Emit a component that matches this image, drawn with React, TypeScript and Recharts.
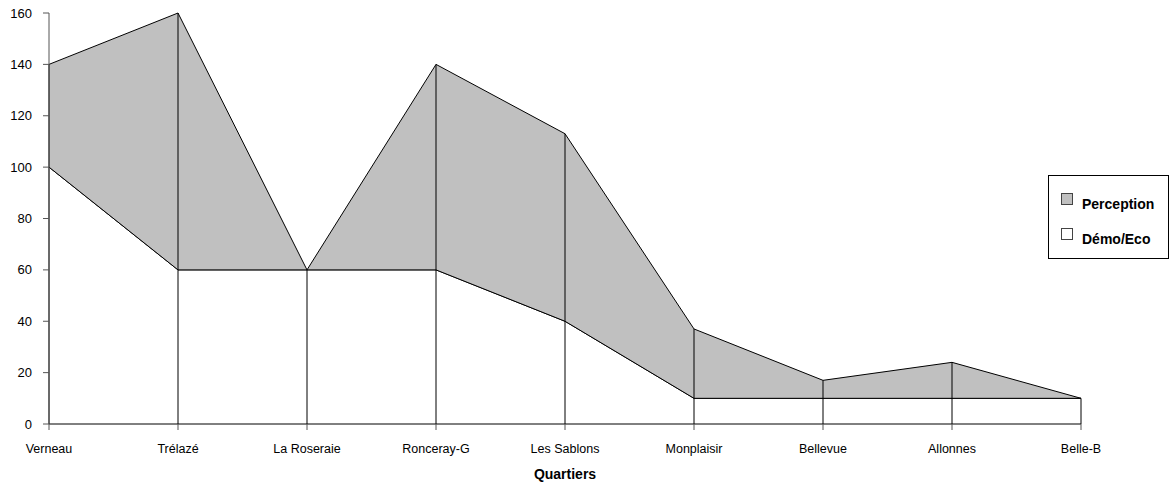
import React from 'react';
import { ComposedChart, Area, Line, XAxis, YAxis, ReferenceLine } from 'recharts';

const quartiers = ['Verneau', 'Trélazé', 'La Roseraie', 'Ronceray-G', 'Les Sablons', 'Monplaisir', 'Bellevue', 'Allonnes', 'Belle-B'];
const demoEco = [100, 60, 60, 60, 40, 10, 10, 10, 10];
const perception = [40, 100, 0, 80, 73, 27, 7, 14, 0];
const yTicks = [0, 20, 40, 60, 80, 100, 120, 140, 160];
const legendItems = [
  { label: 'Perception', fill: '#c0c0c0' },
  { label: 'Démo/Eco', fill: '#fff' },
];

const data = quartiers.map((q, i) => ({
  name: q,
  demo: demoEco[i],
  perception: perception[i],
  total: demoEco[i] + perception[i],
}));

const FONT = '"Liberation Sans", Arial, sans-serif';

// Légende en boîte, à droite du graphique
const LegendBox = () => (
  <div
    style={{
      position: 'absolute',
      left: 1048,
      top: 175,
      border: '1px solid #000',
      background: '#fff',
      width: 121,
      height: 84,
      boxSizing: 'border-box',
      fontFamily: FONT,
      fontWeight: 'bold',
      fontSize: 14,
      color: '#000',
    }}
  >
    {legendItems.map((it, i) => (
      <div key={it.label} style={{ position: 'absolute', left: 12, top: 17 + i * 35, height: 12, width: 105 }}>
        <span
          style={{
            position: 'absolute',
            left: 0,
            top: 0,
            width: 10,
            height: 10,
            border: '1px solid #444',
            background: it.fill,
          }}
        />
        <span style={{ position: 'absolute', left: 21, top: 3, lineHeight: '16px', whiteSpace: 'nowrap' }}>{it.label}</span>
      </div>
    ))}
  </div>
);

export default function App() {
  return (
    <div style={{ position: 'absolute', left: 0, top: 0, width: 1174, height: 486, background: '#fff' }}>
      <ComposedChart width={1174} height={486} data={data} margin={{ top: 13, right: 93, left: 0, bottom: 0 }}>
        <XAxis
          dataKey="name"
          scale="point"
          height={62}
          axisLine={{ stroke: '#000' }}
          tickLine={{ stroke: '#555' }}
          tickSize={6}
          tickMargin={14}
          tick={{ fill: '#000', fontSize: 12.5, fontFamily: FONT }}
          interval={0}
          label={{ value: 'Quartiers', position: 'insideBottom', offset: 7, fill: '#000', fontSize: 14, fontWeight: 'bold', fontFamily: FONT }}
        />
        <YAxis
          width={49}
          domain={[0, 160]}
          ticks={yTicks}
          axisLine={{ stroke: '#555' }}
          tickLine={{ stroke: '#555' }}
          tickSize={6}
          tickMargin={11}
          tick={{ fill: '#000', fontSize: 13, fontFamily: FONT }}
        />
        <Area
          type="linear"
          dataKey="demo"
          name="Démo/Eco"
          stackId="1"
          stroke="#000"
          strokeWidth={1}
          fill="#fff"
          fillOpacity={1}
          dot={false}
          activeDot={false}
          isAnimationActive={false}
        />
        <Area
          type="linear"
          dataKey="perception"
          name="Perception"
          stackId="1"
          stroke="#000"
          strokeWidth={1}
          fill="#c0c0c0"
          fillOpacity={1}
          dot={false}
          activeDot={false}
          isAnimationActive={false}
        />
        <Line
          type="linear"
          dataKey="demo"
          stroke="#000"
          strokeWidth={1}
          dot={false}
          activeDot={false}
          legendType="none"
          isAnimationActive={false}
        />
        {data.map((d) => (
          <ReferenceLine
            key={d.name}
            segment={[{ x: d.name, y: 0 }, { x: d.name, y: d.total }]}
            stroke="#000"
            strokeWidth={1}
          />
        ))}
      </ComposedChart>
      <LegendBox />
    </div>
  );
}
